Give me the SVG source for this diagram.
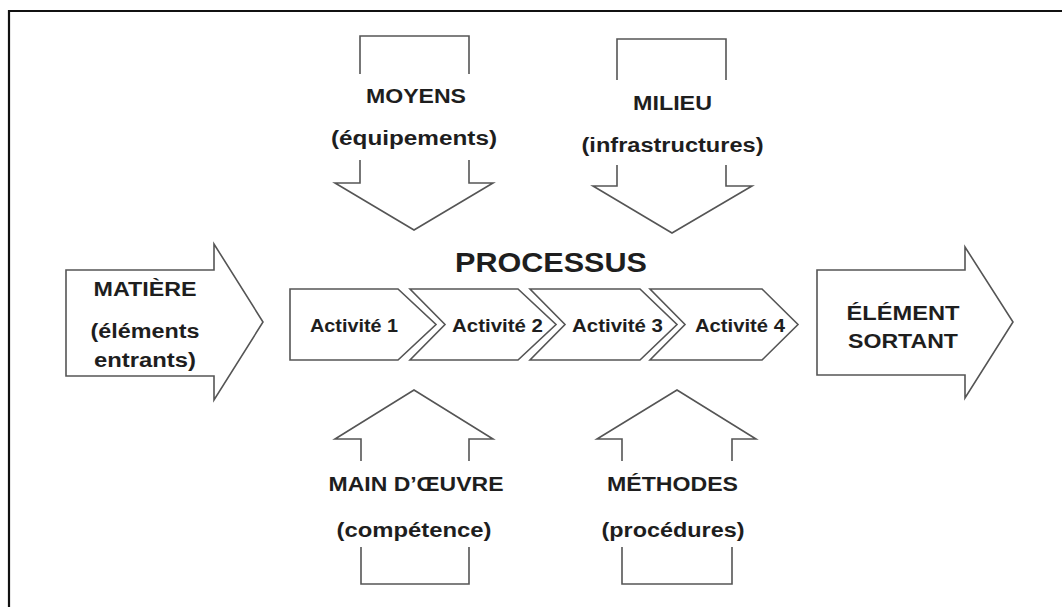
<svg xmlns="http://www.w3.org/2000/svg" width="1062" height="607" viewBox="0 0 1062 607">
  <style>
    .shape { fill: #ffffff; stroke: #555555; stroke-width: 1.6; stroke-linejoin: miter; }
    .open { fill: none; stroke: #555555; stroke-width: 1.6; }
    .lbl { font-family: "Liberation Sans", Arial, sans-serif; font-weight: bold; fill: #1e1e1e; text-anchor: middle; font-size: 20px; }
    .act { font-size: 18px; }
    .title { font-size: 28px; }
  </style>
  <rect x="0" y="0" width="1062" height="607" fill="#ffffff"/>

  <!-- frame: top and left edges only -->
  <path d="M9,607 L9,11 L1062,11" fill="none" stroke="#111111" stroke-width="2.2"/>

  <g id="connectors">
    <!-- input arrow: materials -->
    <g id="matiere">
      <polygon class="shape" points="66,270 214,270 214,244 263,322 214,400 214,376 66,376"/>
      <text class="lbl" x="145" y="296" textLength="103" lengthAdjust="spacingAndGlyphs">MATIÈRE</text>
      <text class="lbl" x="145" y="338" textLength="109" lengthAdjust="spacingAndGlyphs">(éléments</text>
      <text class="lbl" x="145" y="367" textLength="102" lengthAdjust="spacingAndGlyphs">entrants)</text>
    </g>

    <!-- output arrow -->
    <g id="element-sortant">
      <polygon class="shape" points="817,270 965,270 965,247 1013,322 965,398 965,375 817,375"/>
      <text class="lbl" x="903" y="320" textLength="113" lengthAdjust="spacingAndGlyphs">ÉLÉMENT</text>
      <text class="lbl" x="903" y="348" textLength="110" lengthAdjust="spacingAndGlyphs">SORTANT</text>
    </g>

    <!-- top arrows pointing down -->
    <g id="moyens">
      <path class="open" d="M360,74 L360,36 L469,36 L469,74"/>
      <path class="open" d="M360,160 L360,183 L335,183 L414,230 L493,183 L469,183 L469,160"/>
      <text class="lbl" x="416" y="103" textLength="100" lengthAdjust="spacingAndGlyphs">MOYENS</text>
      <text class="lbl" x="414" y="145" textLength="166" lengthAdjust="spacingAndGlyphs">(équipements)</text>
    </g>

    <g id="milieu">
      <path class="open" d="M617,80 L617,39 L726,39 L726,80"/>
      <path class="open" d="M617,165 L617,186 L593,186 L672,233 L752,186 L726,186 L726,165"/>
      <text class="lbl" x="672.5" y="110" textLength="79" lengthAdjust="spacingAndGlyphs">MILIEU</text>
      <text class="lbl" x="672.5" y="152" textLength="182" lengthAdjust="spacingAndGlyphs">(infrastructures)</text>
    </g>

    <!-- bottom arrows pointing up -->
    <g id="main-oeuvre">
      <path class="open" d="M361,461 L361,439 L335,439 L414,390 L493,439 L469,439 L469,461"/>
      <path class="open" d="M361,547 L361,584 L469,584 L469,547"/>
      <text class="lbl" x="416" y="491" textLength="175" lengthAdjust="spacingAndGlyphs">MAIN D’ŒUVRE</text>
      <text class="lbl" x="414" y="537" textLength="155" lengthAdjust="spacingAndGlyphs">(compétence)</text>
    </g>

    <g id="methodes">
      <path class="open" d="M622,461 L622,439 L597,439 L677,390 L756,439 L732,439 L732,461"/>
      <path class="open" d="M622,547 L622,584 L732,584 L732,547"/>
      <text class="lbl" x="672.5" y="491" textLength="131" lengthAdjust="spacingAndGlyphs">MÉTHODES</text>
      <text class="lbl" x="673" y="537" textLength="143" lengthAdjust="spacingAndGlyphs">(procédures)</text>
    </g>
  </g>

  <!-- process chain -->
  <g id="processus">
    <text class="lbl title" x="551" y="272" textLength="192" lengthAdjust="spacingAndGlyphs">PROCESSUS</text>
  </g>

  <g id="activite-1">
    <polygon class="shape" points="290,289 398,289 436,324.5 398,360 290,360"/>
    <text class="lbl act" x="354" y="332" textLength="88" lengthAdjust="spacingAndGlyphs">Activité 1</text>
  </g>
  <g id="activite-2">
    <polygon class="shape" points="410,289 518,289 556,324.5 518,360 410,360 445,324.5"/>
    <text class="lbl act" x="497.5" y="332" textLength="91" lengthAdjust="spacingAndGlyphs">Activité 2</text>
  </g>
  <g id="activite-3">
    <polygon class="shape" points="530,289 640,289 677,324.5 640,360 530,360 565,324.5"/>
    <text class="lbl act" x="617.5" y="332" textLength="91" lengthAdjust="spacingAndGlyphs">Activité 3</text>
  </g>
  <g id="activite-4">
    <polygon class="shape" points="650,289 762,289 798,324.5 762,360 650,360 685,324.5"/>
    <text class="lbl act" x="740" y="332" textLength="90" lengthAdjust="spacingAndGlyphs">Activité 4</text>
  </g>
</svg>
